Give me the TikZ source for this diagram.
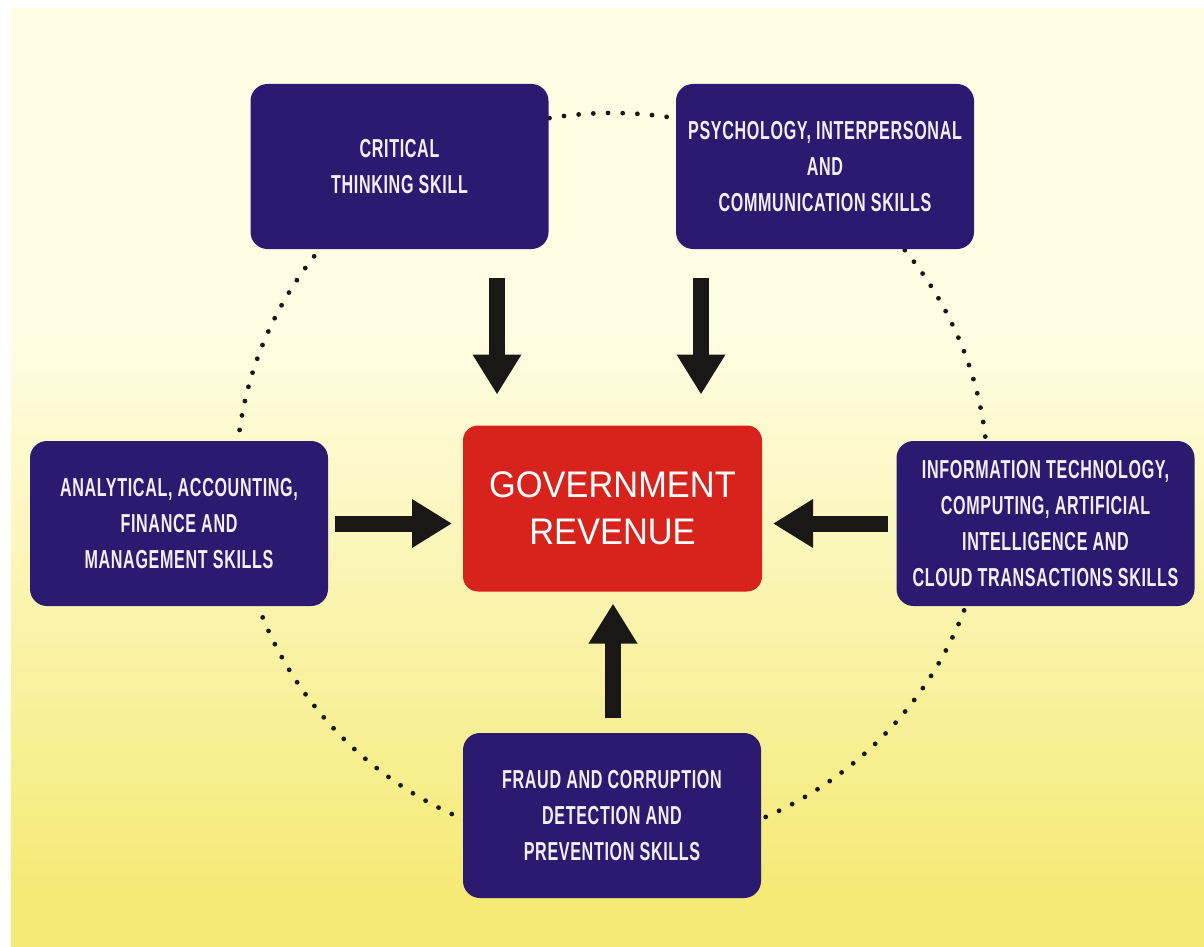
\documentclass[tikz,border=0pt]{standalone}
\usepackage{fontspec}
\usetikzlibrary{arrows.meta}
\newfontfamily\condf[FakeStretch=0.62,LetterSpace=2.5]{Liberation Sans}
\newfontfamily\govf[FakeStretch=0.93]{Liberation Sans}
\definecolor{navy}{RGB}{44,26,112}
\definecolor{govred}{RGB}{215,35,27}
\definecolor{cream}{RGB}{255,253,228}
\definecolor{yel}{RGB}{245,234,118}
\definecolor{arrowblk}{RGB}{26,24,22}
\definecolor{boxtext}{RGB}{240,240,246}
\tikzset{
  skillbox/.style={draw=none, fill=navy, rounded corners=17pt, inner sep=0pt, outer sep=0pt,
    minimum width=298pt, minimum height=165pt, align=center, text=boxtext,
    font=\condf\bfseries\fontsize{26}{36}\selectfont,
    execute at begin node={\rule{0pt}{24.6pt}}},
  govbox/.style={draw=none, fill=govred, rounded corners=15pt, inner sep=0pt, outer sep=0pt,
    minimum width=299pt, minimum height=166pt, align=center, text=white,
    font=\govf\fontsize{37}{47}\selectfont},
  fatarrow/.style={draw=arrowblk, line width=16pt,
    -{Triangle[length=40pt,width=46pt]}},
  dotring/.style={draw=arrowblk, line width=4.8pt, line cap=round, dash pattern=on 0pt off 14.7pt}
}
\begin{document}
\begin{tikzpicture}[x=1pt,y=-1pt]
\useasboundingbox (0,0) rectangle (1204,947);
\fill[white] (0,0) rectangle (1204,947);
\fill[cream] (11,8) rectangle (1204,330);
\shade[top color=cream, bottom color=yel] (11,329) rectangle (1204,890);
\fill[yel] (11,889) rectangle (1204,947);
% dotted ring
\path[dotring] (612,481) ellipse [x radius=376, y radius=368];
% nodes
\node[skillbox] (crit) at (399.5,166.5) {CRITICAL\\THINKING SKILL};
\node[skillbox] (psych) at (825,166.5) {PSYCHOLOGY, INTERPERSONAL\\AND\\COMMUNICATION SKILLS};
\node[skillbox] (ana) at (179,523.5) {ANALYTICAL, ACCOUNTING,\\FINANCE AND\\MANAGEMENT SKILLS};
\node[skillbox] (it) at (1045.5,523.5) {INFORMATION TECHNOLOGY,\\COMPUTING, ARTIFICIAL\\INTELLIGENCE AND\\CLOUD TRANSACTIONS SKILLS};
\node[skillbox] (fraud) at (612,815.5) {FRAUD AND CORRUPTION\\DETECTION AND\\PREVENTION SKILLS};
\node[govbox] (gov) at (612.5,508.5) {GOVERNMENT\\REVENUE};
% arrow columns
\coordinate (xa) at (497,0);
\coordinate (xb) at (701,0);
\coordinate (xc) at (613,0);
% connectors
\draw[fatarrow, shorten <=29pt, shorten >=31pt] (crit.south -| xa) -- (gov.north -| xa);
\draw[fatarrow, shorten <=29pt, shorten >=31pt] (psych.south -| xb) -- (gov.north -| xb);
\draw[fatarrow, shorten <=7pt, shorten >=11pt] (ana.east) -- (ana.east -| gov.west);
\draw[fatarrow, shorten <=9pt, shorten >=11pt] (it.west) -- (it.west -| gov.east);
\draw[fatarrow, shorten <=15pt, shorten >=12pt] (fraud.north -| xc) -- (gov.south -| xc);
\end{tikzpicture}
\end{document}
